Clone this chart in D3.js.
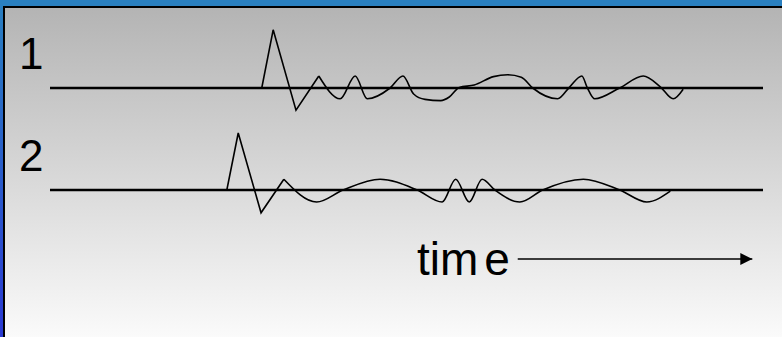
<!DOCTYPE html>
<html>
<head>
<meta charset="utf-8">
<script src="https://cdn.jsdelivr.net/npm/d3@7"></script>
<style>
  html, body { margin: 0; padding: 0; overflow: hidden; }
  svg { display: block; }
</style>
</head>
<body>
<div id="chart"></div>
<script>
/* Two seismogram traces on a time axis */

// trace labels
const labels = ["1", "2"];

// time (0-100) and amplitude (-1..1)
// first arrival: straight zigzag
const onset1 = [[29.7, 0], [31.3, 0.97], [34.5, -0.37], [37.7, 0.2]];
// coda: smooth wiggles
const coda1 = [[37.7, 0.2], [40.7, -0.18], [42.8, 0.2], [44.5, -0.18], [47.7, 0], [49.5, 0.2],
  [51.0, -0.1], [52.6, -0.19], [54.8, -0.21], [56.0, -0.15], [57.4, 0.01], [59.5, 0.05],
  [62.2, 0.19], [64.2, 0.22], [66.1, 0.18], [67.7, 0], [71.2, -0.18], [72.9, 0.02],
  [74.6, 0.2], [75.3, 0.02], [76.4, -0.18], [79.9, 0], [83.2, 0.2], [85.6, 0.02],
  [87.4, -0.18], [88.8, -0.02]];

const onset2 = [[24.8, 0], [26.4, 0.95], [29.6, -0.38], [32.8, 0.18]];
const coda2 = [[32.8, 0.18], [37.4, -0.2], [41.1, 0], [46.3, 0.18], [51.5, 0], [55.0, -0.2],
  [56.9, 0.18], [58.8, -0.2], [60.6, 0.18], [62.4, 0], [65.9, -0.2], [69.1, 0],
  [74.8, 0.18], [79.9, 0], [83.7, -0.2], [87.0, -0.02]];

const traces = [
  { label: labels[0], onset: onset1, coda: coda1 },
  { label: labels[1], onset: onset2, coda: coda2 }
];

const width = 782, height = 337;

let svg = d3.select("#chart")
  .append("svg")
  .attr("width", width)
  .attr("height", height);

let defs = svg.append("defs");

let bg = defs.append("linearGradient").attr("id", "bg")
  .attr("x1", 0).attr("y1", 0).attr("x2", 0).attr("y2", 1);
bg.append("stop").attr("offset", "0%").attr("stop-color", "#b4b4b4");
bg.append("stop").attr("offset", "100%").attr("stop-color", "#fcfcfc");

let side = defs.append("linearGradient").attr("id", "side")
  .attr("x1", 0).attr("y1", 0).attr("x2", 0).attr("y2", 1);
side.append("stop").attr("offset", "0%").attr("stop-color", "#2a80c0");
side.append("stop").attr("offset", "100%").attr("stop-color", "#2a3ad2");

defs.append("marker").attr("id", "arrow")
  .attr("viewBox", "0 0 10 10")
  .attr("refX", 10).attr("refY", 5)
  .attr("markerWidth", 15).attr("markerHeight", 12)
  .attr("markerUnits", "userSpaceOnUse")
  .attr("orient", "auto")
  .append("path").attr("d", "M0,0L10,5L0,10Z").attr("fill", "#000");

// frame
svg.append("rect").attr("width", width).attr("height", height).attr("fill", "url(#side)");
svg.append("rect").attr("width", width).attr("height", 7).attr("fill", "#2a80c0");
svg.append("rect").attr("x", 3).attr("y", 6).attr("width", width).attr("height", height).attr("fill", "#000");
svg.append("rect").attr("x", 5).attr("y", 8).attr("width", width).attr("height", height).attr("fill", "url(#bg)");

// scales
let x = d3.scaleLinear().domain([0, 100]).range([50, 763]);
let row = d3.scaleBand().domain(labels).range([37, 241]);
let amp = d3.scaleLinear().domain([-1, 1]).range([60, -60]);

let base = d => row(d) + row.bandwidth() / 2;

let g = svg.selectAll(".trace")
  .data(traces)
  .join("g")
  .attr("class", "trace")
  .attr("transform", d => `translate(0,${base(d.label)})`);

// zero line
g.append("line")
  .attr("x1", x(0)).attr("x2", x(100))
  .attr("stroke", "#000").attr("stroke-width", 2.5);

let straight = d3.line().x(d => x(d[0])).y(d => amp(d[1]));
let smooth = d3.line().x(d => x(d[0])).y(d => amp(d[1])).curve(d3.curveMonotoneX);

g.append("path")
  .attr("d", d => straight(d.onset))
  .attr("fill", "none").attr("stroke", "#000").attr("stroke-width", 1.6)
  .attr("stroke-linejoin", "miter");

g.append("path")
  .attr("d", d => smooth(d.coda))
  .attr("fill", "none").attr("stroke", "#000").attr("stroke-width", 1.6);

// labels
g.append("text")
  .text(d => d.label)
  .attr("x", 19)
  .attr("y", -19)
  .attr("font-family", "Liberation Sans, Arial, sans-serif")
  .attr("font-size", 44)
  .attr("fill", "#000");

// time arrow
let timeY = 259;
let t = svg.append("text")
  .attr("x", 417).attr("y", 275)
  .attr("font-family", "Liberation Sans, Arial, sans-serif")
  .attr("font-size", 46)
  .attr("fill", "#000");
t.append("tspan").text("tim");
t.append("tspan").attr("dx", 6).text("e");

svg.append("line")
  .attr("x1", x(65.6)).attr("x2", x(98.5))
  .attr("y1", timeY).attr("y2", timeY)
  .attr("stroke", "#000").attr("stroke-width", 1.6)
  .attr("marker-end", "url(#arrow)");
</script>
</body>
</html>
